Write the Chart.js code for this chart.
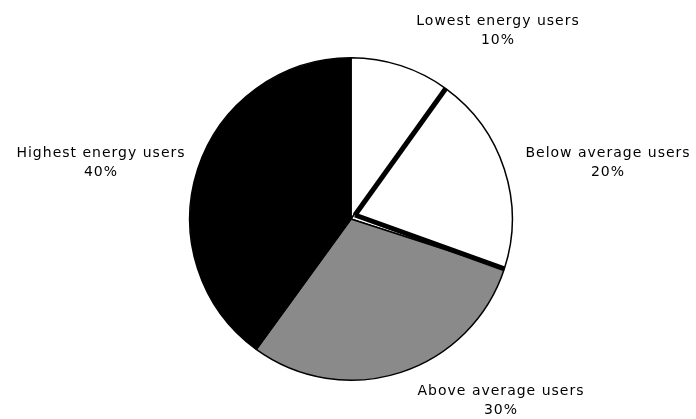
<!DOCTYPE html>
<html>
<head>
<meta charset="utf-8">
<script src="https://cdn.jsdelivr.net/npm/chart.js@4/dist/chart.umd.min.js"></script>
<style>
  html, body { margin: 0; padding: 0; background: #fff; }
  #wrap { width: 696px; height: 419px; position: relative; }
</style>
</head>
<body>
<div id="wrap"><canvas id="grafico"></canvas></div>
<script>
// dados
const categorias = ["Lowest energy users", "Below average users", "Above average users", "Highest energy users"]
const valores = [10, 20, 30, 40]
const percentuais = ["10%", "20%", "30%", "40%"]
const cores = ["#ffffff", "#ffffff", "#8a8a8a", "#000000"]

// onde fica cada rótulo, relativo ao centro da pizza
const rotuloDx = [147, 257, 150, -250]
const rotuloDy = [-198, -66, 172, -66]

// bordas grossas da fatia "Below average"
const bordaGrossa = {
    id: "bordaGrossa",
    afterDatasetsDraw(chart) {
        const arc = chart.getDatasetMeta(0).data[1]
        const ctx = chart.ctx
        ctx.save()
        ctx.strokeStyle = "#000"
        ctx.lineWidth = 5
        ctx.lineCap = "butt"
        ;[arc.startAngle, arc.endAngle].forEach(a => {
            ctx.beginPath()
            ctx.moveTo(arc.x + 4, arc.y - 4)
            ctx.lineTo(arc.x + Math.cos(a) * arc.outerRadius, arc.y + Math.sin(a) * arc.outerRadius)
            ctx.stroke()
        })
        ctx.restore()
    }
}

const rotulos = {
    id: "rotulos",
    afterDraw(chart) {
        const ctx = chart.ctx
        const meta = chart.getDatasetMeta(0)
        ctx.save()
        ctx.fillStyle = "#000"
        ctx.font = "14px 'DejaVu Sans'"
        ctx.letterSpacing = "1px"
        ctx.textAlign = "center"
        ctx.textBaseline = "middle"
        meta.data.forEach((arc, i) => {
            const x = arc.x + rotuloDx[i]
            const y = arc.y + rotuloDy[i]
            ctx.fillText(categorias[i], x, y)
            ctx.fillText(percentuais[i], x, y + 19)
        })
        ctx.restore()
    }
}

new Chart(document.getElementById("grafico"), {
    type: "pie",
    data: {
        labels: categorias,
        datasets: [{
            data: valores,
            backgroundColor: cores,
            borderColor: "#000",
            borderWidth: 1.5
        }]
    },
    options: {
        responsive: true,
        maintainAspectRatio: false,
        animation: false,
        layout: { padding: { left: 189, right: 183, top: 57, bottom: 38 } },
        plugins: {
            legend: { display: false },
            tooltip: { enabled: false }
        }
    },
    plugins: [bordaGrossa, rotulos]
})
</script>
</body>
</html>
